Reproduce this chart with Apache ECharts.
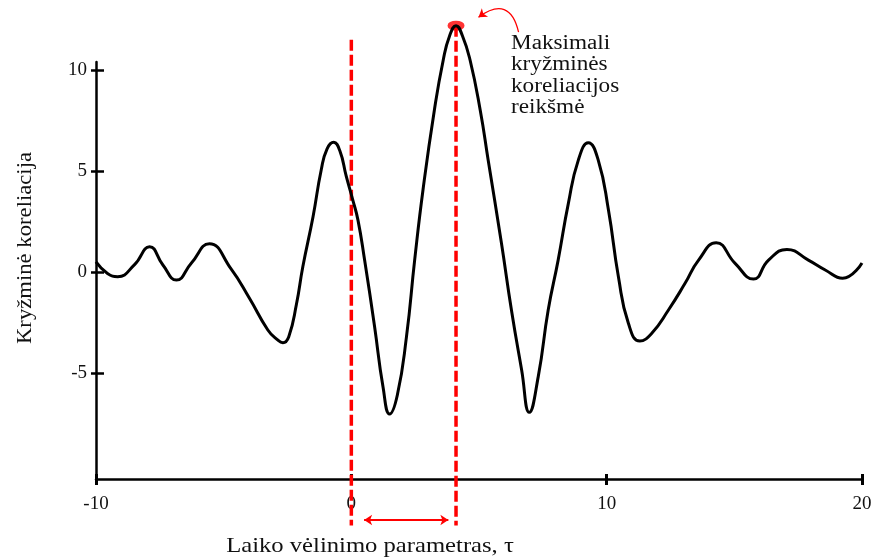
<!DOCTYPE html>
<html>
<head>
<meta charset="utf-8">
<script src="https://cdn.jsdelivr.net/npm/echarts@6/dist/echarts.min.js"></script>
<style>
  html, body { margin: 0; padding: 0; background: #ffffff; }
  #chart { width: 876px; height: 557px; }
</style>
</head>
<body>
<div id="chart"></div>
<script>
// Cross-correlation as a function of the time-lag parameter τ
const lagValues = [
  -10, -9.55, -9.15, -8.5, -7.9, -7.38, -6.85, -6.27, -5.56, -4.71,
  -3.99, -3.27, -2.9, -2.68, -2.45, -2.15, -1.9, -1.5, -1.18, -0.95,
  -0.69, -0.45, -0.2, 0.05, 0.26, 0.52, 0.91, 1.24, 1.5, 1.8,
  2.16, 2.48, 2.81, 3.25, 3.6, 3.85, 4.1, 4.35, 4.65, 5.05,
  5.36, 5.88, 6.27, 6.67, 6.97, 7.32, 7.71, 8.1, 8.5, 8.89,
  9.28, 9.67, 10.07, 10.46, 10.85, 11.3, 11.76, 12.42, 13.07, 13.6,
  14.29, 15.03, 15.75, 16.34, 17.06, 17.9, 18.56, 19.24, 20
];
const correlationValues = [
  0.5, -0.07, -0.23, 0.35, 1.25, 0.35, -0.4, 0.43, 1.4, 0.15,
  -1.3, -2.87, -3.35, -3.5, -3.2, -1.6, 0.26, 2.74, 5.05, 6.1,
  6.42, 6.0, 4.75, 3.6, 2.57, 0.59, -2.7, -5.68, -7.03, -6.1,
  -3.2, 0.59, 4.1, 8.0, 10.5, 11.7, 12.2, 11.7, 10.5, 8.0,
  5.54, 1.42, -1.88, -4.85, -6.95, -5.18, -1.88, 0.59, 3.4, 5.54,
  6.4, 5.54, 3.07, -0.23, -2.54, -3.42, -3.04, -1.88, -0.56, 0.59,
  1.45, 0.43, -0.35, 0.59, 1.12, 0.59, 0.1, -0.31, 0.45
];

// Peak of the correlation and the lag it occurs at
const peakLag = 4.1;
const peakValue = 12.2;

// Vertical reference lines: zero lag and lag of the maximum
const guideLags = [0, peakLag];
const guideTops = [11.5, peakValue];
const guideBottom = -12.55;

// Span arrow showing the delay between the two guides
const spanArrowFrom = 0.5;
const spanArrowTo = 3.8;
const spanArrowLevel = -12.28;

// Annotation arrow pointing at the maximum
const noteArrowStart = [6.55, 11.88];
const noteArrowEnd = [4.98, 12.62];

const yTicks = [-5, 0, 5, 10];

const xAxisName = 'Laiko vėlinimo parametras, τ';
const yAxisName = 'Kryžminė koreliacija';
const noteText = 'Maksimali\nkryžminės\nkoreliacijos\nreikšmė';

const SERIF = '"Liberation Serif", "Times New Roman", serif';
const X_MIN = -10, X_MAX = 20, Y_MIN = -10.25, Y_MAX = 10.4;

const curve = lagValues.map((x, i) => [x, correlationValues[i]]);

const chart = echarts.init(document.getElementById('chart'), null, { renderer: 'canvas' });

const axisLabelStyle = { color: '#111', fontFamily: SERIF, fontSize: 19 };

chart.setOption({
  backgroundColor: '#ffffff',
  animation: false,
  grid: { left: 96, right: 14, top: 62, bottom: 78, containLabel: false },
  xAxis: [
    {
      type: 'value', min: X_MIN, max: X_MAX, interval: 10, position: 'bottom',
      axisLine: { show: true, onZero: false, lineStyle: { color: '#000', width: 2.5 } },
      axisTick: { show: true, length: 6, lineStyle: { color: '#000', width: 3 } },
      axisLabel: { ...axisLabelStyle, margin: 16, showMinLabel: true, showMaxLabel: true },
      splitLine: { show: false }
    },
    {
      type: 'value', min: X_MIN, max: X_MAX, interval: 10, position: 'bottom',
      axisLine: { show: false, onZero: false },
      axisTick: { show: true, inside: true, length: 5, lineStyle: { color: '#000', width: 3 } },
      axisLabel: { show: false },
      splitLine: { show: false }
    }
  ],
  yAxis: [
    {
      type: 'value', min: Y_MIN, max: Y_MAX, position: 'left',
      axisLine: { show: true, onZero: false, lineStyle: { color: '#000', width: 2.5 } },
      axisTick: { show: true, length: 5, customValues: yTicks, lineStyle: { color: '#000', width: 2.5 } },
      axisLabel: { ...axisLabelStyle, margin: 9, customValues: yTicks },
      splitLine: { show: false }
    },
    {
      type: 'value', min: Y_MIN, max: Y_MAX, position: 'left',
      axisLine: { show: false, onZero: false },
      axisTick: { show: true, inside: true, length: 8, customValues: yTicks, lineStyle: { color: '#000', width: 2.5 } },
      axisLabel: { show: false },
      splitLine: { show: false }
    }
  ],
  series: [
    // red marker at the maximum
    {
      type: 'scatter', clip: false, z: 3,
      data: [[peakLag, peakValue]],
      symbol: 'circle', symbolSize: [17, 10],
      itemStyle: { color: '#ff0000' }
    },
    // dashed guides
    ...guideLags.map((lag, i) => ({
      type: 'line', clip: false, z: 2,
      data: [[lag, guideTops[i]], [lag, guideBottom]],
      showSymbol: false, symbol: 'none',
      lineStyle: { color: '#ff0000', width: 3.5, type: [11, 4] }
    })),
    // the correlation curve
    {
      type: 'line', clip: false, z: 4,
      data: curve, smooth: 0.5,
      showSymbol: false, symbol: 'none',
      lineStyle: { color: '#000', width: 3 }
    },
    // double-headed arrow for the delay span
    {
      type: 'lines', coordinateSystem: 'cartesian2d', clip: false, z: 5,
      symbol: ['arrow', 'arrow'], symbolSize: 8,
      lineStyle: { color: '#ff0000', width: 2, curveness: 0, opacity: 1 },
      data: [{ coords: [[spanArrowFrom, spanArrowLevel], [spanArrowTo, spanArrowLevel]] }]
    },
    // curved pointer from the note to the maximum
    {
      type: 'lines', coordinateSystem: 'cartesian2d', clip: false, z: 5,
      symbol: ['none', 'arrow'], symbolSize: 8,
      lineStyle: { color: '#ff0000', width: 1.3, curveness: -0.75, opacity: 1 },
      data: [{ coords: [noteArrowStart, noteArrowEnd] }]
    }
  ],
  graphic: [
    {
      type: 'text', x: 25, y: 248, rotation: Math.PI / 2, scaleX: 1.08,
      style: { text: yAxisName, font: '21px ' + SERIF, fill: '#111', align: 'center', verticalAlign: 'middle' }
    },
    {
      type: 'text', x: 370, y: 546, scaleX: 1.12,
      style: { text: xAxisName, font: '22px ' + SERIF, fill: '#111', align: 'center', verticalAlign: 'middle' }
    },
    {
      type: 'text', x: 511, y: 33, scaleX: 1.16,
      style: { text: noteText, font: '20px ' + SERIF, fill: '#111', align: 'left', verticalAlign: 'top', lineHeight: 21.3 }
    }
  ]
});
</script>
</body>
</html>
